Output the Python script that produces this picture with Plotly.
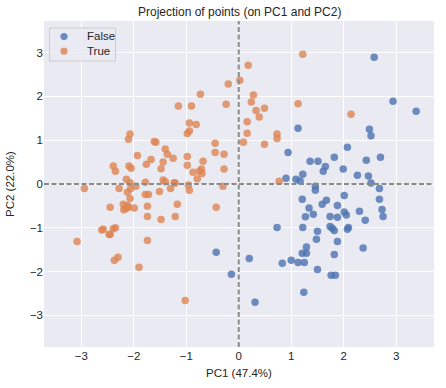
import plotly.graph_objects as go

# PC1 / PC2 coordinates, group False
false_pc1 = [1.13, 2.58, 2.94, 3.38, 2.49, 2.52, 0.94, 0.90, 1.09, 1.17, 1.22, 1.21, 0.73, 1.22, 1.27,
             -0.43, 2.07, 1.82, 2.70, 2.43, 1.36, 1.51, 1.65, 1.61, 1.99, 2.26, 2.47, 2.52, 1.46, 1.46,
             2.68, 2.01, 1.67, 1.59, 1.88, 2.68, 1.34, 2.73, 2.01, 2.05, 2.30, 1.42, 1.74, 1.88, 2.75,
             2.41, 1.74, 1.78, 1.82, 2.09, 2.07, 1.50, 1.48, 1.88, 1.29, 2.37, 0.20, -0.14, 0.83, 1.00,
             1.13, 1.21, 1.25, 1.24, 0.31, 1.29, 1.82, 1.50, 1.76, 1.84]
false_pc2 = [1.27, 2.89, 1.89, 1.66, 1.25, 1.10, 0.72, 0.13, 0.11, 0.07, 0.22, -0.35, -0.99, -0.99, -0.75,
             -1.56, 0.84, 0.61, 0.61, 0.54, 0.52, 0.52, 0.40, 0.29, 0.34, 0.20, 0.18, 0.02, -0.05, -0.14,
             -0.10, -0.26, -0.37, -0.46, -0.49, -0.35, -0.55, -0.58, -0.64, -0.71, -0.62, -0.69, -0.74, -0.76, -0.74,
             -0.83, -0.97, -1.01, -1.06, -0.99, -1.03, -1.08, -1.26, -1.31, -1.44, -1.46, -1.70, -2.06, -1.81, -1.74,
             -1.79, -1.58, -1.79, -2.47, -2.70, -1.58, -1.61, -1.95, -2.08, -2.08]

# PC1 / PC2 coordinates, group True
true_pc1 = [1.22, 0.18, 0.02, -0.20, -0.73, 0.28, -1.15, -0.90, -0.24, 0.24, 1.13, 0.33, 0.49, 0.39, -0.94,
            -0.81, 0.16, -0.94, -0.98, 0.16, 0.73, 2.14, -2.07, -2.10, -1.61, -1.58, -1.40, -1.36, -1.25, -1.93,
            -1.67, -1.76, -1.44, -1.48, -2.39, -2.35, -2.09, -2.05, -2.14, -2.07, -1.96, -1.78, -1.44, -1.40, -1.23,
            -2.94, -2.28, -2.06, -2.12, -1.78, -1.72, -1.51, -1.30, -2.07, -2.20, -2.12, -2.15, -2.19, -2.10, -1.99,
            -2.45, -1.74, -1.17, -1.74, -1.48, -1.21, -2.61, -2.58, -2.47, -2.45, -2.39, -2.35, -3.08, -1.74, 0.73,
            -0.45, 0.09, 0.49, -0.45, -0.28, -0.98, -0.98, -0.68, -0.71, -0.87, -0.70, -0.75, -0.28, -0.79, -1.21,
            -0.96, -0.94, -0.30, -0.43, 0.77, -2.37, -2.30, -1.90, -1.02]
true_pc2 = [2.96, 2.71, 2.37, 2.28, 2.05, 2.03, 1.78, 1.78, 1.82, 1.87, 1.83, 1.68, 1.73, 1.53, 1.39,
            1.36, 1.42, 1.21, 1.15, 1.16, 1.14, 1.59, 1.14, 1.02, 0.97, 0.95, 0.80, 0.68, 0.59, 0.65,
            0.56, 0.45, 0.50, 0.35, 0.41, 0.29, 0.41, 0.36, 0.11, 0.03, -0.05, 0.04, 0.09, 0.05, 0.03,
            -0.10, -0.10, -0.11, -0.19, -0.24, -0.24, -0.17, -0.10, -0.33, -0.46, -0.49, -0.56, -0.59, -0.53, -0.55,
            -0.53, -0.51, -0.46, -0.74, -0.81, -0.74, -1.05, -1.03, -1.15, -1.15, -1.02, -1.00, -1.31, -1.29, 1.04,
            0.93, 0.95, 0.91, 0.72, 0.68, 0.63, 0.43, 0.52, 0.34, 0.27, 0.24, 0.29, 0.34, 0.12, 0.02,
            -0.02, -0.14, -0.05, -0.53, 0.06, -1.74, -1.67, -1.90, -2.66]

tick_vals = [-3, -2, -1, 0, 1, 2, 3]
group_names = ["False", "True"]
x_title = "PC1 (47.4%)"
y_title = "PC2 (22.0%)"
chart_title = "Projection of points (on PC1 and PC2)"

COLORS = ["#4C72B0", "#DD8452"]
FONT = "Liberation Sans, Arial, sans-serif"
TXT = "#262626"

W, H = 446, 388
L, R, T, B = 44, 12, 21, 41
PW, PH = W - L - R, H - T - B


def px_x(px):
    return (px - L) / PW


def px_y(py):
    return (H - B - py) / PH


fig = go.Figure()
for name, xs, ys, col in zip(group_names, [false_pc1, true_pc1], [false_pc2, true_pc2], COLORS):
    fig.add_trace(go.Scatter(x=xs, y=ys, mode="markers", name=name, showlegend=False,
                             marker=dict(color=col, size=7.5, opacity=0.8, line=dict(width=0))))

dash_line = dict(color="#8a8a8a", width=2, dash="5px,2.5px")
fig.add_shape(type="line", xref="x", yref="paper", x0=0, x1=0, y0=0, y1=1, line=dash_line, layer="above")
fig.add_shape(type="line", xref="paper", yref="y", x0=0, x1=1, y0=0, y1=0, line=dash_line, layer="above")

# legend box (drawn manually to match the compact matplotlib legend)
fig.add_shape(type="rect", xref="paper", yref="paper",
              x0=px_x(49.5), x1=px_x(115.5), y0=px_y(61), y1=px_y(28),
              line=dict(color="#cccccc", width=1), fillcolor="rgba(234,234,242,0.8)", layer="above")
for i, (name, col) in enumerate(zip(group_names, COLORS)):
    cy = px_y(36.5 + 14.7 * i)
    fig.add_shape(type="circle", xref="paper", yref="paper", xsizemode="pixel", ysizemode="pixel",
                  xanchor=px_x(64), yanchor=cy, x0=-3.6, x1=3.6, y0=-3.6, y1=3.6,
                  fillcolor=col, opacity=0.8, line=dict(width=0), layer="above")
    fig.add_annotation(text=name, xref="paper", yref="paper", x=px_x(84.5), y=cy,
                       xanchor="left", yanchor="middle", showarrow=False,
                       font=dict(size=11.5, color=TXT, family=FONT))

# axis titles
fig.add_annotation(text=x_title, xref="paper", yref="paper", x=0.5, y=px_y(373),
                   xanchor="center", yanchor="middle", showarrow=False,
                   font=dict(size=11.5, color=TXT, family=FONT))
fig.add_annotation(text=y_title, xref="paper", yref="paper", x=px_x(10), y=px_y(184),
                   xanchor="center", yanchor="middle", showarrow=False, textangle=-90,
                   font=dict(size=11.5, color=TXT, family=FONT))
fig.add_annotation(text=chart_title, xref="paper", yref="paper", x=0.5, y=px_y(12),
                   xanchor="center", yanchor="middle", showarrow=False,
                   font=dict(size=12, color=TXT, family=FONT))

axis_common = dict(showgrid=True, gridcolor="white", gridwidth=1, zeroline=False, showline=False,
                   ticks="", tickvals=tick_vals, automargin=False,
                   tickfont=dict(size=11.5, color=TXT, family=FONT))

fig.update_layout(
    width=W, height=H,
    margin=dict(l=L, r=R, t=T, b=B, autoexpand=False),
    paper_bgcolor="white", plot_bgcolor="#EAEAF2",
    font=dict(family=FONT, color=TXT, size=11),
    xaxis=dict(range=[-3.71, 3.72], **axis_common),
    yaxis=dict(range=[-3.72, 3.72], **axis_common),
    showlegend=False,
)

fig.write_html("out.html", config={"displayModeBar": False},
               post_script="document.body.style.margin='0';document.body.style.padding='0';"
                           "document.body.style.overflow='hidden';")
